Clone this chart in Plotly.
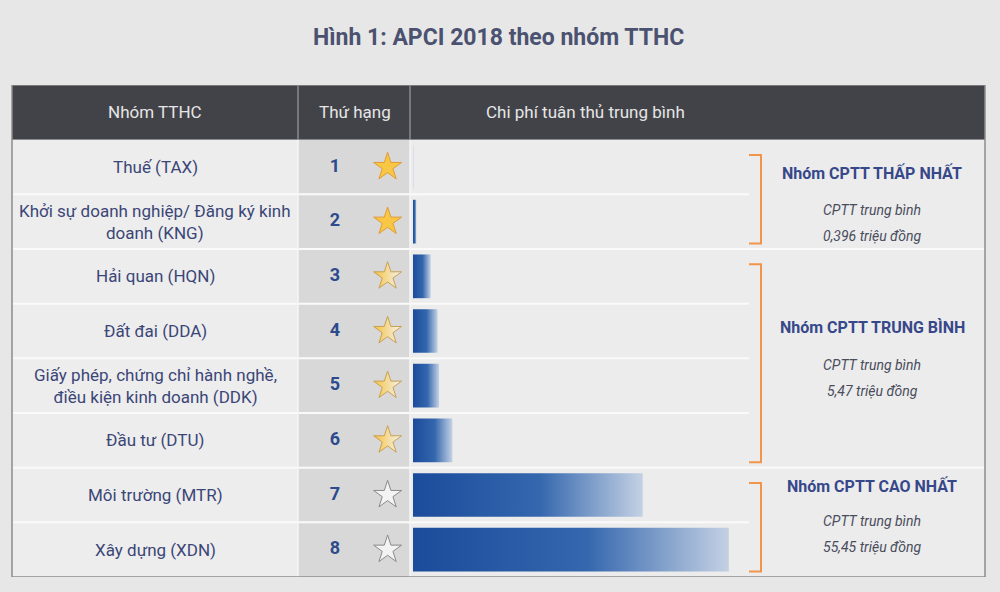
import plotly.graph_objects as go

# ---------------- data ----------------
categories = [
    "Thuế (TAX)",
    "Khởi sự doanh nghiệp/ Đăng ký kinh<br>doanh (KNG)",
    "Hải quan (HQN)",
    "Đất đai (DDA)",
    "Giấy phép, chứng chỉ hành nghề,<br>điều kiện kinh doanh (DDK)",
    "Đầu tư (DTU)",
    "Môi trường (MTR)",
    "Xây dựng (XDN)",
]
ranks = [1, 2, 3, 4, 5, 6, 7, 8]
cost = [0.1, 0.69, 3.6, 5.0, 5.3, 8.0, 46.7, 64.2]   # triệu đồng (estimated)
star_level = ["full", "full", "half", "half", "half", "half", "empty", "empty"]
header_labels = ["Nhóm TTHC", "Thứ hạng", "Chi phí tuân thủ trung bình"]
group_names = ["Nhóm CPTT THẤP NHẤT", "Nhóm CPTT TRUNG BÌNH", "Nhóm CPTT CAO NHẤT"]
group_avg = ["0,396 triệu đồng", "5,47 triệu đồng", "55,45 triệu đồng"]
group_first = [1, 3, 7]
group_last = [2, 6, 8]
title = "Hình 1: APCI 2018 theo nhóm TTHC"

# ---------------- style ----------------
FONT = "Roboto"
LABEL_C = "#3b4677"
RANK_C = "#2c4a8c"
GROUP_C = "#37488a"
SUB_C = "#4a4c5c"
X_L, X_NAME, X_RANK, X_BR, X_R = 0.012, 0.298, 0.41, 0.749, 0.985

fig = go.Figure()

# bars (gradient filled polygons on data axes)
for r, v in zip(ranks, cost):
    fig.add_trace(go.Scatter(
        x=[0, v, v, 0, 0], y=[r - 0.4, r - 0.4, r + 0.4, r + 0.4, r - 0.4],
        mode="none", fill="toself",
        fillgradient=dict(type="horizontal",
                          colorscale=[[0, "#1b4b9b"], [0.55, "#3467ae"], [1, "#c4d1e4"]]),
        hoverinfo="skip", showlegend=False, xaxis="x", yaxis="y"))

# stars
star_styles = {
    "full": dict(color="#f8c844", line=dict(color="#e39a35", width=1)),
    "half": dict(color="#f6c23e", line=dict(color="#c9a055", width=1),
                 gradient=dict(type="horizontal", color="#f4f4f4")),
    "empty": dict(color="#f3f3f3", line=dict(color="#8a8a8a", width=1)),
}
for lvl, sty in star_styles.items():
    ys = [r for r, s in zip(ranks, star_level) if s == lvl]
    fig.add_trace(go.Scatter(
        x=[0.8] * len(ys), y=ys, mode="markers",
        marker=dict(symbol="star", size=21, **sty),
        hoverinfo="skip", showlegend=False, xaxis="x2", yaxis="y"))

# rank numbers
fig.add_trace(go.Scatter(
    x=[0.33] * len(ranks), y=ranks, mode="text", text=[str(r) for r in ranks],
    textfont=dict(family=FONT, size=18, color=RANK_C, weight="bold"),
    hoverinfo="skip", showlegend=False, xaxis="x2", yaxis="y"))

shapes = []
# header
shapes.append(dict(type="rect", xref="paper", yref="y", x0=X_L, x1=X_R, y0=-0.5, y1=0.5,
                   fillcolor="#424348", line=dict(width=0), layer="below"))
# body columns
shapes.append(dict(type="rect", xref="paper", yref="y", x0=X_L, x1=X_NAME, y0=0.5, y1=8.5,
                   fillcolor="#ededed", line=dict(width=0), layer="below"))
shapes.append(dict(type="rect", xref="paper", yref="y", x0=X_NAME, x1=X_RANK, y0=0.5, y1=8.5,
                   fillcolor="#d8d8d8", line=dict(width=0), layer="below"))
shapes.append(dict(type="rect", xref="paper", yref="y", x0=X_RANK, x1=X_R, y0=0.5, y1=8.5,
                   fillcolor="#ececec", line=dict(width=0), layer="below"))
# row separators
boundaries = [g + 0.5 for g in group_last[:-1]]
for k in ranks[:-1]:
    yb = k + 0.5
    x_end = X_R if yb in boundaries else X_BR
    shapes.append(dict(type="line", xref="paper", yref="y", x0=X_L, x1=x_end, y0=yb, y1=yb,
                       line=dict(color="#fafafa", width=2), layer="below"))
# column dividers
for xv in (X_NAME, X_RANK):
    shapes.append(dict(type="line", xref="paper", yref="y", x0=xv, x1=xv, y0=0.5, y1=8.5,
                       line=dict(color="#f6f6f6", width=1.5), layer="below"))
    shapes.append(dict(type="line", xref="paper", yref="y", x0=xv, x1=xv, y0=-0.5, y1=0.5,
                       line=dict(color="#8a8a8a", width=1.5), layer="above"))
# outer border
shapes.append(dict(type="rect", xref="paper", yref="y", x0=X_L, x1=X_R, y0=-0.5, y1=8.5,
                   line=dict(color="#8c8c8c", width=1.5), fillcolor="rgba(0,0,0,0)", layer="above"))
# brackets
for a, b in zip(group_first, group_last):
    t, btm = a - 0.22, b + 0.4
    shapes.append(dict(type="path", xref="paper", yref="y",
                       path=f"M {X_BR},{t} L {X_BR+0.012},{t} L {X_BR+0.012},{btm} L {X_BR},{btm}",
                       line=dict(color="#f0954a", width=2)))

annotations = []
# title
annotations.append(dict(text=f"<b>{title}</b>", xref="paper", yref="paper", x=0.498, y=0.937,
                        xanchor="center", yanchor="middle",
                        showarrow=False, font=dict(family=FONT, size=23, color="#4b5270")))
# headers
for txt, xc in zip(header_labels, [0.155, 0.355, 0.585]):
    annotations.append(dict(text=txt, xref="paper", yref="y", x=xc, y=0, showarrow=False,
                            xanchor="center", yanchor="middle",
                            font=dict(family=FONT, size=17, color="#e6e6e6")))
# row labels
for r, c in zip(ranks, categories):
    annotations.append(dict(text=c, xref="paper", yref="y", x=0.155, y=r, showarrow=False,
                            xanchor="center", yanchor="middle",
                            align="center", font=dict(family=FONT, size=17, color=LABEL_C)))
# group texts
title_off = [-0.39, -0.57, -0.67]
sub_off = [0.29, 0.12, -0.03]
gap = 0.48
for name, avg, a, b, to, so in zip(group_names, group_avg, group_first, group_last, title_off, sub_off):
    c = (a + b) / 2
    annotations.append(dict(text=f"<b>{name}</b>", xref="paper", yref="y", x=0.872, y=c + to,
                            xanchor="center", yanchor="middle",
                            showarrow=False, font=dict(family=FONT, size=16, color=GROUP_C)))
    annotations.append(dict(text="<i>CPTT trung bình</i>", xref="paper", yref="y", x=0.872, y=c + so,
                            xanchor="center", yanchor="middle",
                            showarrow=False, font=dict(family=FONT, size=14, color=SUB_C)))
    annotations.append(dict(text=f"<i>{avg}</i>", xref="paper", yref="y", x=0.872, y=c + so + gap,
                            xanchor="center", yanchor="middle",
                            showarrow=False, font=dict(family=FONT, size=14, color=SUB_C)))

fig.update_layout(
    width=1000, height=592,
    margin=dict(l=0, r=0, t=0, b=0),
    paper_bgcolor="#e7e7e7", plot_bgcolor="rgba(0,0,0,0)",
    font=dict(family=FONT),
    xaxis=dict(domain=[0.413, 0.75], range=[0, 68.5], visible=False, fixedrange=True),
    xaxis2=dict(domain=[X_NAME, X_RANK], range=[0, 1], visible=False, fixedrange=True, anchor="y"),
    yaxis=dict(domain=[1 - 577 / 592, 1 - 85 / 592], range=[8.5, -0.5], visible=False, fixedrange=True),
    shapes=shapes, annotations=annotations, showlegend=False,
)

fig.write_html("out.html", config={"displayModeBar": False},
               post_script="document.body.style.margin='0';document.body.style.overflow='hidden';")
